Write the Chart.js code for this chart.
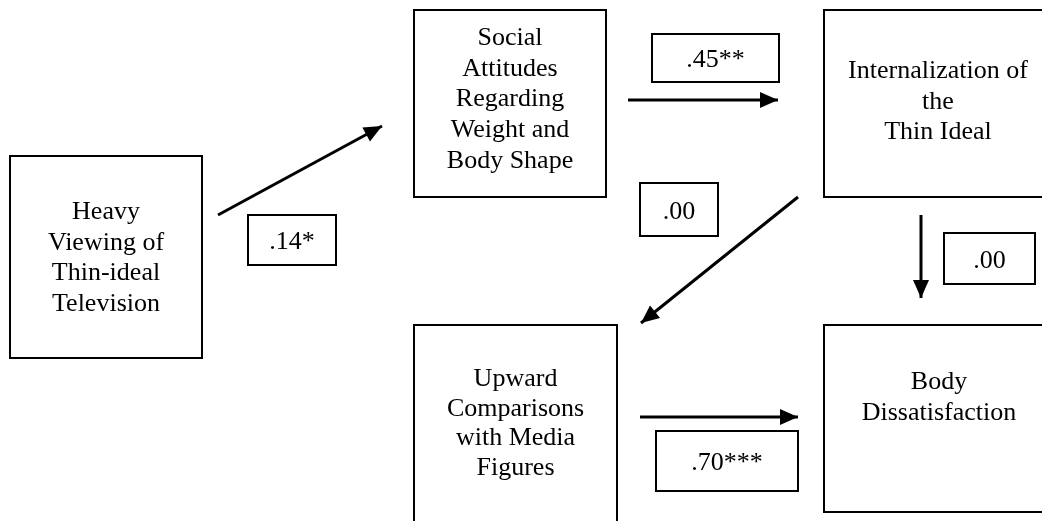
<!DOCTYPE html>
<html>
<head>
<meta charset="utf-8">
<script src="https://cdn.jsdelivr.net/npm/chart.js@4/dist/chart.umd.min.js"></script>
<style>
  html, body { margin: 0; padding: 0; background: #fff; }
  #wrap { width: 1042px; height: 521px; }
</style>
</head>
<body>
<div id="wrap"><canvas id="diagram" width="1042" height="521"></canvas></div>
<script>
// variables in the path model (one entry per text line)
const nodeLines = [
  ['Heavy', 'Viewing of', 'Thin-ideal', 'Television'],
  ['Social', 'Attitudes', 'Regarding', 'Weight and', 'Body Shape'],
  ['Internalization of', 'the', 'Thin Ideal'],
  ['Upward', 'Comparisons', 'with Media', 'Figures'],
  ['Body', 'Dissatisfaction']
];

// paths: from node -> to node, with the standardized coefficient
const pathFrom = [0, 1, 2, 2, 3];
const pathTo = [1, 2, 3, 4, 4];
const pathCoefficients = ['.14*', '.45**', '.00', '.00', '.70***'];

// layout (diagram units = pixels of the 1042x521 page)
const nodeBoxes = [
  [10, 156, 202, 358],
  [414, 10, 606, 197],
  [824, 10, 1052, 197],
  [414, 325, 617, 540],
  [824, 325, 1054, 512]
];
const nodeFirstBaseline = [219, 45, 78, 386, 389];
const nodeLineGap = [30.7, 30.7, 30.5, 29.5, 31];

const arrowStart = [[218, 215], [628, 100], [798, 197], [921, 215], [640, 417]];
const arrowEnd = [[382, 126], [778, 100], [641, 323], [921, 298], [798, 417]];
const coefBoxes = [
  [248, 215, 336, 265],
  [652, 34, 779, 82],
  [640, 183, 718, 236],
  [944, 233, 1035, 284],
  [656, 431, 798, 491]
];

const FONT = '26px "Liberation Serif", "Times New Roman", serif';

// each path line as a two-point dataset
const datasets = pathCoefficients.map((c, i) => ({
  label: c,
  data: [
    { x: arrowStart[i][0], y: arrowStart[i][1] },
    { x: arrowEnd[i][0], y: arrowEnd[i][1] }
  ],
  showLine: true,
  borderColor: '#000',
  borderWidth: 3,
  pointRadius: 0,
  fill: false
}));

// boxes, texts and arrow heads
const diagramPlugin = {
  id: 'pathDiagram',
  beforeDraw: (chart) => {
    const ctx = chart.ctx;
    ctx.save();
    ctx.fillStyle = '#fff';
    ctx.fillRect(0, 0, chart.width, chart.height);
    ctx.restore();
  },
  afterDatasetsDraw: (chart) => {
    const ctx = chart.ctx;
    const xs = chart.scales.x;
    const ys = chart.scales.y;
    const px = v => xs.getPixelForValue(v);
    const py = v => ys.getPixelForValue(v);

    ctx.save();
    ctx.strokeStyle = '#000';
    ctx.fillStyle = '#000';
    ctx.font = FONT;
    ctx.textAlign = 'center';
    ctx.textBaseline = 'alphabetic';

    // variable boxes
    nodeBoxes.forEach((b, i) => {
      const x0 = px(b[0]), y0 = py(b[1]), x1 = px(b[2]), y1 = py(b[3]);
      ctx.lineWidth = 2;
      ctx.strokeRect(x0, y0, x1 - x0, y1 - y0);
      const cx = (x0 + x1) / 2;
      nodeLines[i].forEach((t, k) => {
        ctx.fillText(t, cx, py(nodeFirstBaseline[i] + k * nodeLineGap[i]));
      });
    });

    // coefficient boxes
    coefBoxes.forEach((b, i) => {
      const x0 = px(b[0]), y0 = py(b[1]), x1 = px(b[2]), y1 = py(b[3]);
      ctx.lineWidth = 2;
      ctx.strokeRect(x0, y0, x1 - x0, y1 - y0);
      ctx.fillText(pathCoefficients[i], (x0 + x1) / 2, (y0 + y1) / 2 + 9);
    });

    // arrow heads
    chart.data.datasets.forEach((ds, i) => {
      const a = ds.data[0], b = ds.data[1];
      const x0 = px(a.x), y0 = py(a.y), x1 = px(b.x), y1 = py(b.y);
      const ang = Math.atan2(y1 - y0, x1 - x0);
      const len = 18, half = 8;
      ctx.beginPath();
      ctx.moveTo(x1, y1);
      ctx.lineTo(x1 - len * Math.cos(ang) + half * Math.sin(ang), y1 - len * Math.sin(ang) - half * Math.cos(ang));
      ctx.lineTo(x1 - len * Math.cos(ang) - half * Math.sin(ang), y1 - len * Math.sin(ang) + half * Math.cos(ang));
      ctx.closePath();
      ctx.fill();
    });
    ctx.restore();
  }
};

new Chart(document.getElementById('diagram').getContext('2d'), {
  type: 'scatter',
  data: { datasets: datasets },
  options: {
    responsive: false,
    animation: false,
    layout: { padding: 0 },
    plugins: { legend: { display: false }, tooltip: { enabled: false } },
    scales: {
      x: { type: 'linear', display: false, min: 0, max: 1042 },
      y: { type: 'linear', display: false, min: 0, max: 521, reverse: true }
    }
  },
  plugins: [diagramPlugin]
});
</script>
</body>
</html>
